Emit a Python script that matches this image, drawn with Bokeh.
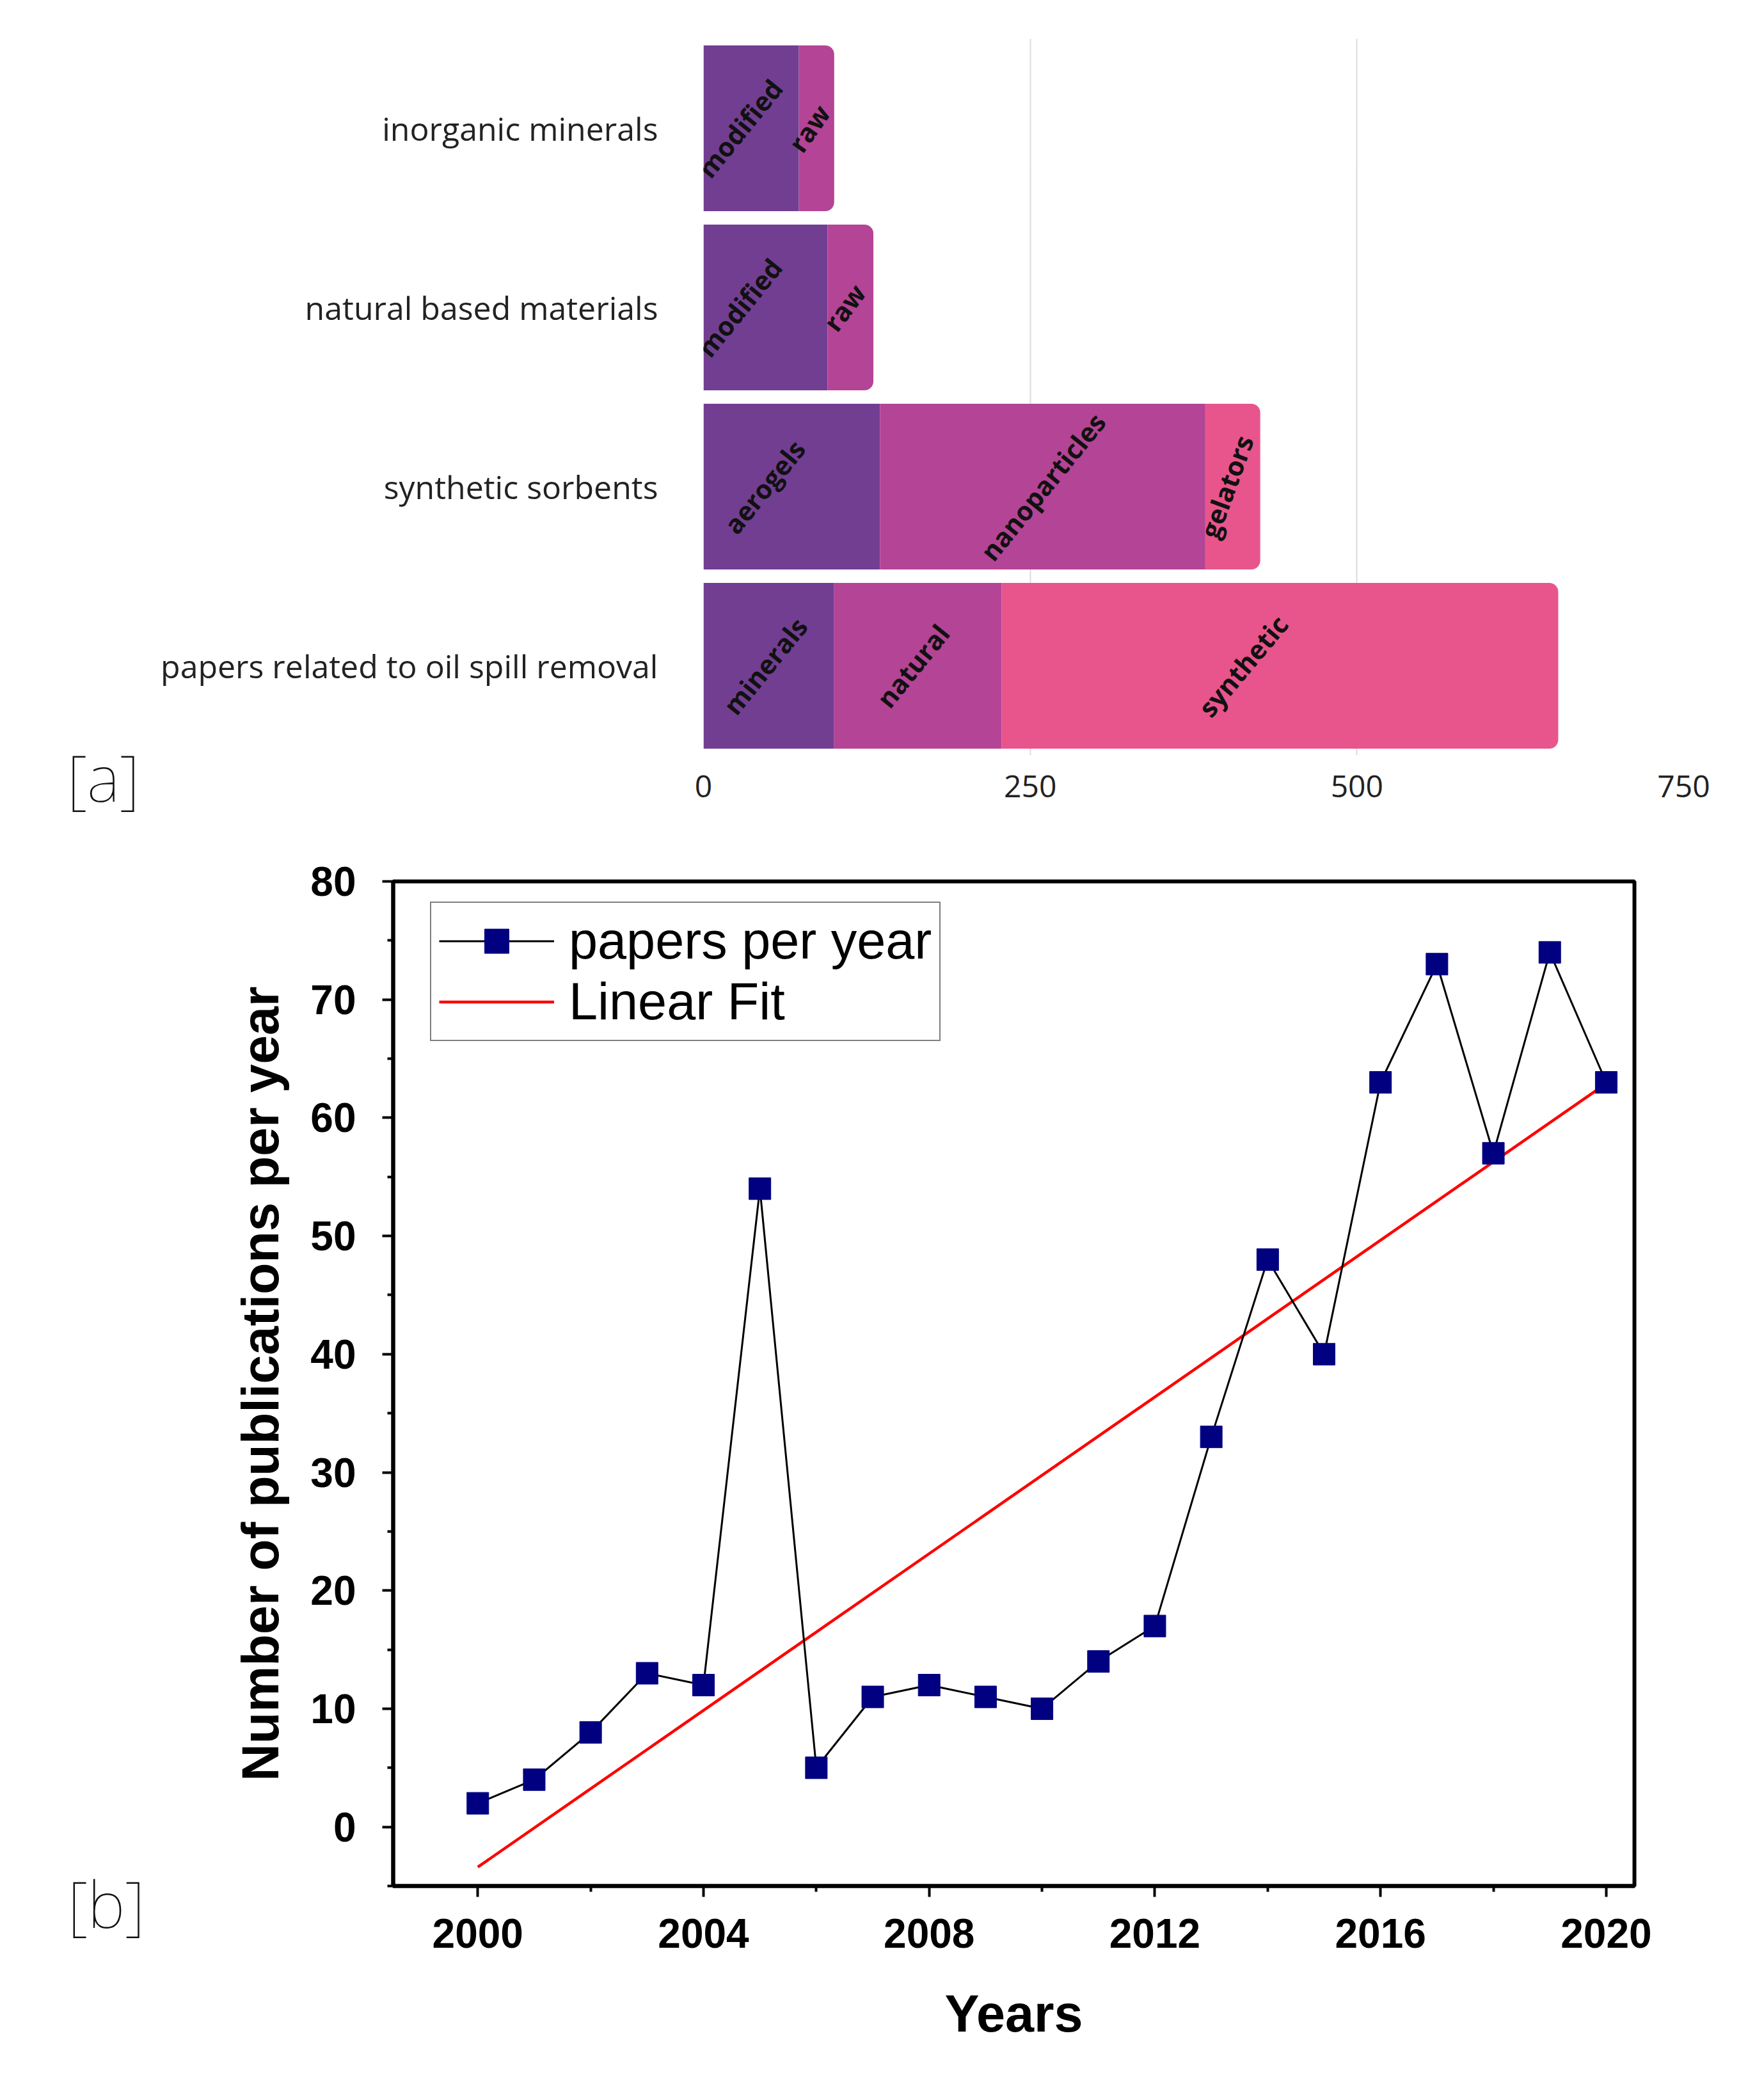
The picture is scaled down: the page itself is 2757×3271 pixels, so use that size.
from bokeh.plotting import figure
from bokeh.models import Range1d, FactorRange, FixedTicker, Label, ColumnDataSource
from bokeh.core.properties import value
from bokeh.embed import file_html
from bokeh.resources import INLINE

# ---------------- data (panel a) ----------------
categories = ["inorganic minerals", "natural based materials",
              "synthetic sorbents", "papers related to oil spill removal"]
segment_names = [["modified", "raw"],
                 ["modified", "raw"],
                 ["aerogels", "nanoparticles", "gelators"],
                 ["minerals", "natural", "synthetic"]]
segment_values = [[73, 27],
                  [95, 35],
                  [135, 249, 42],
                  [100, 128, 426]]
# label styling (angle in degrees, horizontal nudge in px)
segment_angles_deg = [[51, 55], [51, 53], [51, 51, 70], [51, 51, 50]]
segment_label_nudge = [[-18, -12], [-41, -10], [-43, 0, -10], [-6, -8, -58]]
palette = ["#723E92", "#B44496", "#E8558C"]
x_ticks_a = [0, 250, 500, 750]

# ---------------- data (panel b) ----------------
years = [2000, 2001, 2002, 2003, 2004, 2005, 2006, 2007, 2008, 2009, 2010,
         2011, 2012, 2013, 2014, 2015, 2016, 2017, 2018, 2019, 2020]
papers = [2, 4, 8, 13, 12, 54, 5, 11, 12, 11, 10,
          14, 17, 33, 48, 40, 63, 73, 57, 74, 63]
fit_years = [2000, 2020]
fit_values = [-3.4, 62.9]
y_ticks_b = [0, 10, 20, 30, 40, 50, 60, 70, 80]
y_minor_b = [-5, 5, 15, 25, 35, 45, 55, 65, 75]
x_ticks_b = [2000, 2004, 2008, 2012, 2016, 2020]
x_minor_b = [2002, 2006, 2010, 2014, 2018]

W = 2741

# ================= panel a =================
p1 = figure(width=W, height=1290, output_backend="svg", toolbar_location=None,
            y_range=FactorRange(factors=list(reversed(categories))),
            x_range=Range1d(0, 750),
            min_border_left=1099, min_border_right=110,
            min_border_top=60, min_border_bottom=110)
p1.outline_line_color = None
p1.ygrid.grid_line_color = None
p1.xgrid.grid_line_color = "#DCDCE0"
p1.xgrid.grid_line_width = 2
p1.xaxis.ticker = FixedTicker(ticks=x_ticks_a)

body = {"y": [], "left": [], "right": [], "color": []}
last = {"y": [], "left": [], "right": [], "color": []}
lab = {"x": [], "y": [], "text": [], "angle": [], "dx": []}
for cat, names, vals, angs, nud in zip(categories, segment_names, segment_values,
                                       segment_angles_deg, segment_label_nudge):
    start = 0
    n = len(vals)
    for i, (nm, v, a, d) in enumerate(zip(names, vals, angs, nud)):
        target = last if i == n - 1 else body
        target["y"].append(cat)
        target["left"].append(start)
        target["right"].append(start + v)
        target["color"].append(palette[i])
        lab["x"].append(start + v / 2)
        lab["y"].append(cat)
        lab["text"].append(nm)
        lab["angle"].append(a * 3.14159265 / 180)
        lab["dx"].append(d)
        start += v

p1.hbar(y="y", left="left", right="right", height=0.925, color="color",
        line_color=None, source=ColumnDataSource(body))
p1.hbar(y="y", left="left", right="right", height=0.925, color="color",
        line_color=None, source=ColumnDataSource(last),
        border_radius=(0, 14, 14, 0))

p1.text(x="x", y="y", text="text", angle="angle", x_offset="dx",
        source=ColumnDataSource(lab),
        text_align="center", text_baseline="middle",
        text_font=value("Open Sans"), text_font_style="bold",
        text_font_size="41px", text_color="#111111")

for ax in (p1.xaxis[0], p1.yaxis[0]):
    ax.axis_line_color = None
    ax.major_tick_line_color = None
    ax.minor_tick_line_color = None
    ax.major_label_text_font = "Open Sans"
    ax.major_label_text_color = "#222222"
p1.xaxis.major_label_text_font_size = "48px"
p1.xaxis.major_label_standoff = 25
p1.yaxis.major_label_text_font_size = "50px"
p1.yaxis.major_label_standoff = 65

p1.add_layout(Label(x=-487, y=-0.12, text="[a]",
                    text_align="left", text_baseline="middle",
                    text_font="Noto Sans", text_font_size="100px",
                    text_color="#111111"), "left")

# ================= panel b =================
p2 = figure(width=W, height=1950, output_backend="svg", toolbar_location=None,
            x_range=Range1d(1998.5, 2020.5), y_range=Range1d(-5, 80),
            min_border_left=614, min_border_right=187,
            min_border_top=87, min_border_bottom=293)
p2.grid.grid_line_color = None
p2.outline_line_color = "black"
p2.outline_line_width = 6

p2.line(fit_years, fit_values, line_color="#FF0000", line_width=4.5,
        legend_label="Linear Fit")
p2.line(years, papers, line_color="black", line_width=3,
        legend_label="papers per year")
p2.scatter(years, papers, marker="square", size=34, fill_color="#000080",
           line_color="#000080", legend_label="papers per year")

p2.yaxis.ticker = FixedTicker(ticks=y_ticks_b, minor_ticks=y_minor_b)
p2.xaxis.ticker = FixedTicker(ticks=x_ticks_b, minor_ticks=x_minor_b)
for ax in (p2.xaxis[0], p2.yaxis[0]):
    ax.axis_line_color = "black"
    ax.axis_line_width = 6
    ax.major_tick_line_color = "black"
    ax.major_tick_line_width = 4
    ax.major_tick_in = 0
    ax.major_tick_out = 17
    ax.minor_tick_line_color = "black"
    ax.minor_tick_line_width = 4
    ax.minor_tick_in = 0
    ax.minor_tick_out = 9
    ax.major_label_text_font = "Liberation Sans"
    ax.major_label_text_font_style = "bold"
    ax.major_label_text_font_size = "64px"
    ax.major_label_text_color = "black"
    ax.axis_label_text_font = "Liberation Sans"
    ax.axis_label_text_font_style = "bold"
    ax.axis_label_text_font_size = "81px"
    ax.axis_label_text_color = "black"
p2.xaxis.major_label_standoff = 34
p2.yaxis.major_label_standoff = 41
p2.xaxis.axis_label = "Years"
p2.yaxis.axis_label = "Number of publications per year"
p2.xaxis.axis_label_standoff = 55
p2.yaxis.axis_label_standoff = 30

leg = p2.legend[0]
leg.items = list(reversed(leg.items))
leg.location = (58, 1320)
leg.margin = 0
leg.padding = 12
leg.spacing = 0
leg.label_height = 95
leg.glyph_height = 95
leg.glyph_width = 180
leg.label_standoff = 23
leg.label_text_font = "Liberation Sans"
leg.label_text_font_size = "81px"
leg.label_text_color = "black"
leg.border_line_color = "black"
leg.border_line_width = 2
leg.background_fill_color = "white"
leg.background_fill_alpha = 1

p2.add_layout(Label(x=1992.73, y=-6.46, text="[b]", text_align="left",
                    text_baseline="middle", text_font="Noto Sans",
                    text_font_size="100px", text_color="#111111"), "left")

open("out.html", "w").write(file_html([p1, p2], INLINE))
